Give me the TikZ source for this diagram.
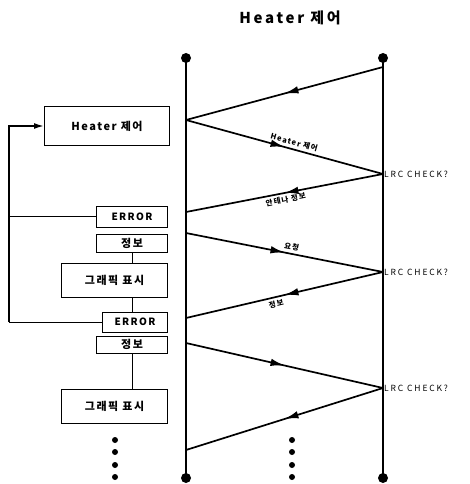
\documentclass[tikz,border=0pt]{standalone}
\usepackage{fontspec}
\setmainfont{Noto Sans CJK KR}[LetterSpace=14]
\usetikzlibrary{arrows.meta,positioning,decorations.markings}

\begin{document}
\begin{tikzpicture}[
  x=1pt, y=-1pt,
  font=\fontsize{11}{13}\selectfont\bfseries,
  >={Latex[length=14pt,width=7.5pt]},
  box/.style={draw, line width=1pt, fill=white, align=center, inner sep=0pt, anchor=east},
  life/.style={line width=2pt},
  msg/.style={line width=1.7pt, decoration={markings, mark=at position 0.5 with {\arrow{>}}}, postaction={decorate}},
  lbl/.style={font=\fontsize{7.5}{8}\selectfont\bfseries, sloped, inner sep=2.5pt},
  chk/.style={anchor=west, font=\fontsize{8.5}{9}\selectfont\addfontfeatures{LetterSpace=22}, inner sep=1pt},
  dot/.style={circle, fill, inner sep=0pt, minimum size=#1}
]
\useasboundingbox (0,0) rectangle (470,484);

% 제목
\node[font=\fontsize{15}{17}\selectfont\bfseries\addfontfeatures{LetterSpace=18}] (title) at (290,18) {Heater 제어};

% 두 개의 수직선
\node[dot=10pt] (lt) at (186,58) {};
\node[dot=10pt] (lb) at (186,478) {};
\node[dot=10pt] (rt) at (383,58) {};
\node[dot=10pt] (rb) at (383,478) {};
\draw[life] (lt.center) -- (lb.center);
\draw[life] (rt.center) -- (rb.center);

% 메시지 점
\coordinate (r0) at (383,67);
\coordinate (l1) at (186,120);
\coordinate (r1) at (383,174);
\coordinate (l2) at (186,212);
\coordinate (l3) at (186,233);
\coordinate (r2) at (383,272);
\coordinate (l4) at (186,318);
\coordinate (l5) at (186,343);
\coordinate (r3) at (383,388);
\coordinate (l6) at (186,450);

\draw[msg] (r0) -- (l1);
\draw[msg] (l1) -- node[lbl, above, pos=0.54] {Heater 제어} (r1);
\draw[msg] (r1) -- node[lbl, below, pos=0.5] {안테나 정보} (l2);
\draw[msg] (l3) -- node[lbl, above, pos=0.53] {요청} (r2);
\draw[msg] (r2) -- node[lbl, below, pos=0.55] {정보} (l4);
\draw[msg] (l5) -- (r3);
\draw[msg] (r3) -- (l6);

\node[chk] (c1) at (r1) {LRC CHECK?};
\node[chk] (c2) at (r2) {LRC CHECK?};
\node[chk] (c3) at (r3) {LRC CHECK?};

% 왼쪽 처리 상자
\node[box, minimum width=125pt, minimum height=38pt] (heat) at (170,126) {Heater 제어};
\node[box, minimum width=71pt, minimum height=21pt, font=\fontsize{10}{12}\selectfont\bfseries] (err1) at (168,216.5) {ERROR};
\node[box, minimum width=71pt, minimum height=18pt] (info1) at (168,243) {정보};
\node[box, minimum width=106pt, minimum height=34pt] (gfx1) at (168,280) {그래픽 표시};
\node[box, minimum width=65pt, minimum height=20pt, font=\fontsize{10}{12}\selectfont\bfseries] (err2) at (168,322) {ERROR};
\node[box, minimum width=71pt, minimum height=17pt] (info2) at (168,344.5) {정보};
\node[box, minimum width=106pt, minimum height=34pt] (gfx2) at (168,406) {그래픽 표시};

\draw[line width=1pt] (info1.south) -- (info1.south |- gfx1.north);
\draw[line width=1pt] (info1.south |- gfx1.south) -- (info1.south |- err2.north);
\draw[line width=1pt] (info2.south) -- (info2.south |- gfx2.north);

% ERROR 되돌림
\coordinate (loop) at (9,0);
\draw[line width=0.8pt] (err1.west) -- (err1.west -| loop);
\draw[line width=1pt] (err2.west) -- (err2.west -| loop);
\draw[line width=1.6pt, -{Latex[length=10pt,width=6pt]}] (err2.west -| loop) |- (heat.west);

% 계속
\foreach \y in {440,452,465,477} {
  \node[dot=6pt] (a\y) at (115,\y) {};
  \node[dot=6pt] (b\y) at (292,\y) {};
}
\end{tikzpicture}
\end{document}
